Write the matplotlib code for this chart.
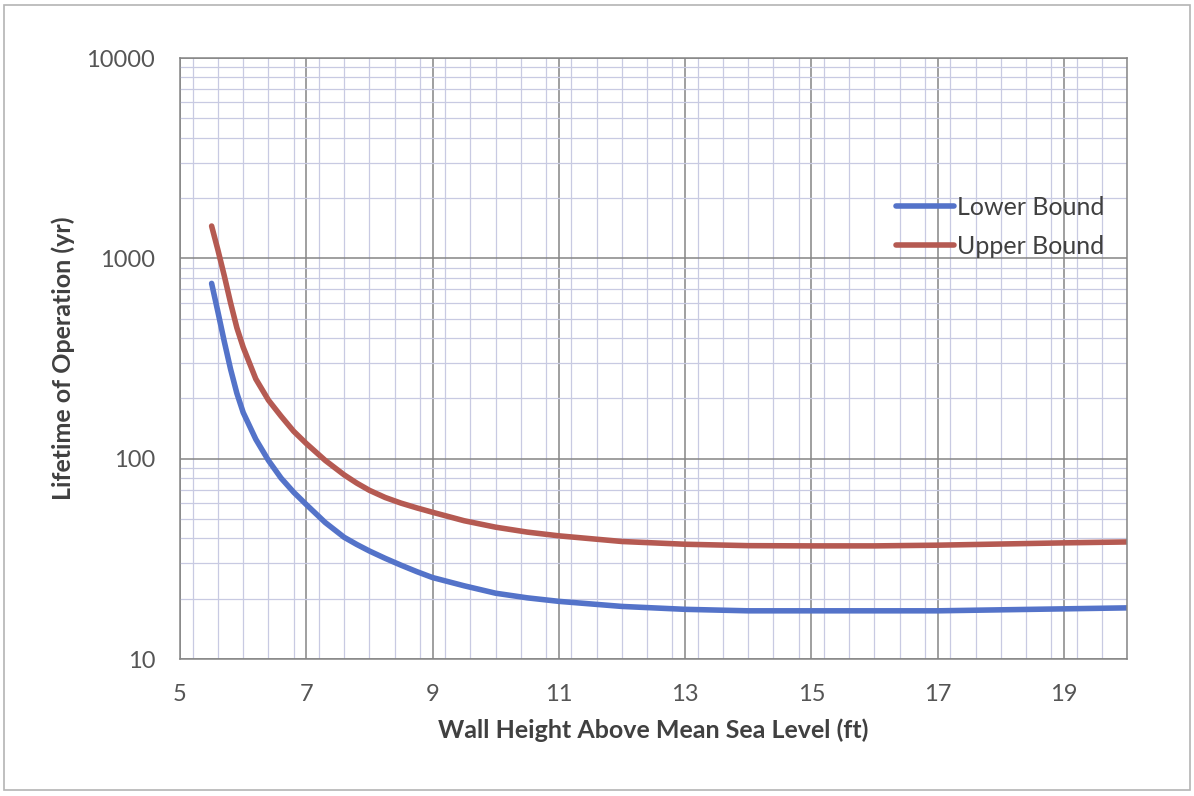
import matplotlib
matplotlib.use('Agg')
import matplotlib.pyplot as plt
import matplotlib.ticker as mticker
from matplotlib.patches import Rectangle

# values
wall_height = [5.5, 5.6, 5.7, 5.8, 5.9, 6.0, 6.2, 6.4, 6.6, 6.8, 7.0, 7.3, 7.6, 7.8, 8.0,
               8.25, 8.5, 8.75, 9, 9.5, 10, 10.5, 11, 12, 13, 14, 15, 16, 17, 18, 19, 20]
lower_bound = [750, 540, 385, 280, 212, 170, 125, 98, 80, 68, 59, 48, 40.5, 37.3, 34.6,
               31.8, 29.4, 27.3, 25.5, 23.2, 21.3, 20.2, 19.4, 18.3, 17.7, 17.4, 17.4,
               17.4, 17.4, 17.6, 17.8, 18]
upper_bound = [1450, 1100, 820, 600, 450, 360, 250, 196, 163, 137, 119, 98, 83, 75.5, 69.5,
               64, 60, 56.8, 54, 49, 45.5, 43, 41.2, 38.6, 37.4, 36.8, 36.7, 36.7, 37, 37.5,
               38, 38.4]
x_ticks = [5, 7, 9, 11, 13, 15, 17, 19]
y_ticks = [10, 100, 1000, 10000]

plt.rcParams['font.family'] = ['Lato', 'DejaVu Sans']

fig = plt.figure(figsize=(11.94, 7.96), dpi=100)
fig.patches.append(Rectangle((0.003, 0.008), 0.994, 0.986, transform=fig.transFigure,
                             fill=False, edgecolor='#b4b4b4', linewidth=1.2))
ax = fig.add_axes([0.1508, 0.1721, 0.7931, 0.755])

ax.plot(wall_height, lower_bound, color='#5473c9', linewidth=4, label='Lower Bound',
        solid_capstyle='round', solid_joinstyle='round')
ax.plot(wall_height, upper_bound, color='#b55a52', linewidth=4, label='Upper Bound',
        solid_capstyle='round', solid_joinstyle='round')

ax.set_yscale('log')
ax.set_xlim(5, 20)
ax.set_ylim(10, 10000)
ax.set_xticks(x_ticks)
ax.set_yticks(y_ticks)
ax.xaxis.set_minor_locator(mticker.MultipleLocator(0.4))
ax.yaxis.set_minor_locator(mticker.LogLocator(base=10, subs=range(2, 10)))
ax.yaxis.set_major_formatter(mticker.FuncFormatter(lambda v, p: '%d' % v))
ax.yaxis.set_minor_formatter(mticker.NullFormatter())

ax.grid(which='major', color='#858585', linewidth=1.1)
ax.grid(which='minor', color='#c8cae2', linewidth=0.9)
ax.set_axisbelow(True)

ax.tick_params(which='both', length=0, labelsize=17, labelcolor='#555555')
ax.tick_params(axis='x', pad=18)
ax.tick_params(axis='y', pad=18)
for s in ax.spines.values():
    s.set_color('#858585')
    s.set_linewidth(1.1)

ax.set_xlabel('Wall Height Above Mean Sea Level (ft)', fontsize=18, fontweight='bold',
              color='#404040', labelpad=10)
ax.set_ylabel('Lifetime of Operation (yr)', fontsize=18, fontweight='bold',
              color='#404040')
ax.yaxis.set_label_coords(-0.111, 0.5)

ax.legend(loc='center right', bbox_to_anchor=(0.976, 0.719), frameon=False, fontsize=18,
          handlelength=2.3, handletextpad=0.12, labelspacing=0.62,
          borderaxespad=0, borderpad=0, labelcolor='#404040')

fig.savefig('out.png', dpi=100, facecolor='white')
